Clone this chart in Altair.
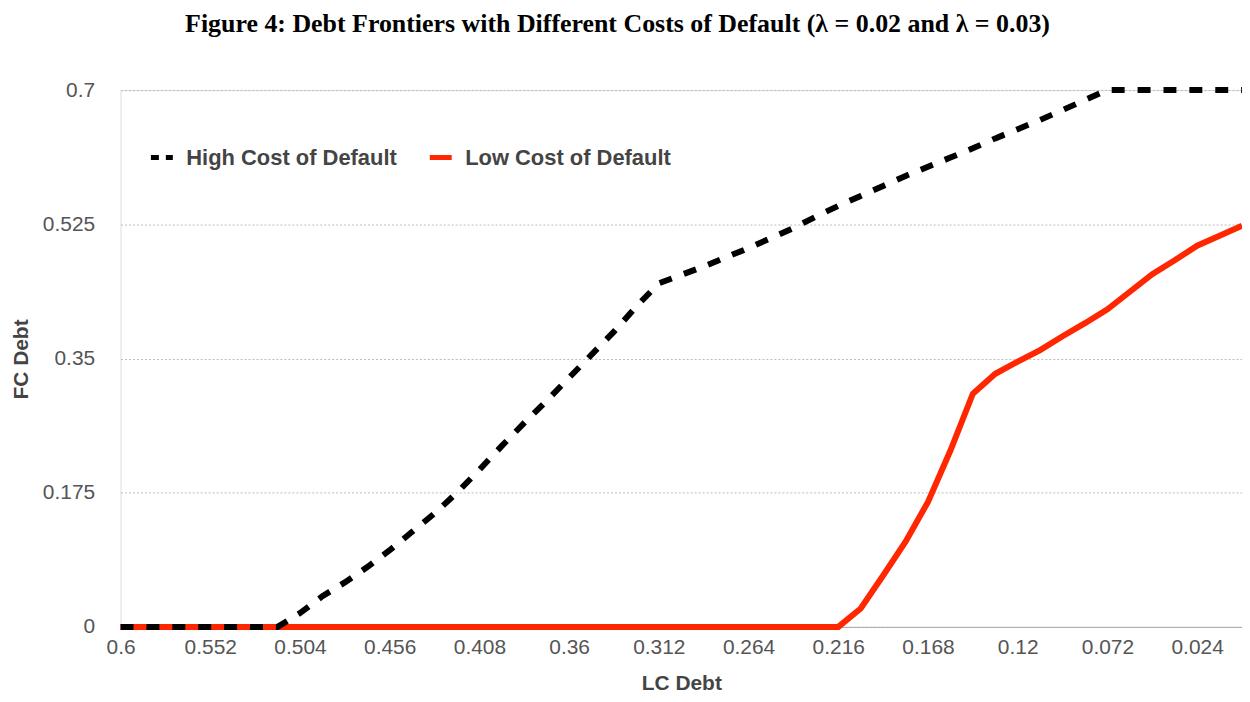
import altair as alt
import pandas as pd

# LC debt grid (x axis, reversed)
lc_debt = [0.6, 0.588, 0.576, 0.564, 0.552, 0.54, 0.528, 0.516, 0.504, 0.492,
           0.48, 0.468, 0.456, 0.444, 0.432, 0.42, 0.408, 0.396, 0.384, 0.372,
           0.36, 0.348, 0.336, 0.324, 0.312, 0.3, 0.288, 0.276, 0.264, 0.252,
           0.24, 0.228, 0.216, 0.204, 0.192, 0.18, 0.168, 0.156, 0.144, 0.132,
           0.12, 0.108, 0.096, 0.084, 0.072, 0.06, 0.048, 0.036, 0.024, 0.012, 0.0]

# FC debt frontier, high cost of default
high_cost = [0, 0, 0, 0, 0, 0, 0, 0, 0.018, 0.040,
             0.058, 0.078, 0.100, 0.124, 0.148, 0.175, 0.205, 0.236, 0.266, 0.295,
             0.325, 0.355, 0.385, 0.418, 0.448, 0.459, 0.470, 0.482, 0.494, 0.507,
             0.520, 0.535, 0.549, 0.562, 0.575, 0.588, 0.600, 0.612, 0.624, 0.637,
             0.649, 0.661, 0.674, 0.687, 0.700, 0.700, 0.700, 0.700, 0.700, 0.700, 0.700]

# FC debt frontier, low cost of default
low_cost = [0, 0, 0, 0, 0, 0, 0, 0, 0, 0,
            0, 0, 0, 0, 0, 0, 0, 0, 0, 0,
            0, 0, 0, 0, 0, 0, 0, 0, 0, 0,
            0, 0, 0, 0.024, 0.067, 0.111, 0.163, 0.230, 0.304, 0.330,
            0.346, 0.361, 0.379, 0.396, 0.414, 0.437, 0.460, 0.478, 0.497, 0.510, 0.523]

series_names = ["High Cost of Default", "Low Cost of Default"]
series_colors = ["#000000", "#FF2600"]

x_ticks = [0.6, 0.552, 0.504, 0.456, 0.408, 0.36, 0.312, 0.264, 0.216, 0.168, 0.12, 0.072, 0.024]
y_ticks = [0, 0.175, 0.35, 0.525, 0.7]

df = pd.DataFrame({
    "lc": lc_debt * 2,
    "fc": high_cost + low_cost,
    "series": [series_names[0]] * len(lc_debt) + [series_names[1]] * len(lc_debt),
})

FONT = "Liberation Sans"

x_enc = alt.X("lc:Q",
              scale=alt.Scale(domain=[0, 0.6], reverse=True, nice=False, zero=False),
              axis=alt.Axis(title="LC Debt", values=x_ticks, format=".3~f", grid=False,
                            ticks=False, domain=True, domainColor="#aaaaaa", domainWidth=1,
                            labelFont=FONT, labelFontSize=21, labelColor="#555555",
                            labelPadding=10, labelFlush=False, labelOverlap=False,
                            titleFont=FONT, titleFontSize=21, titleFontWeight="bold",
                            titleColor="#444444", titleY=57, titleBaseline="middle"))
y_enc = alt.Y("fc:Q",
              scale=alt.Scale(domain=[0, 0.7], nice=False),
              axis=alt.Axis(title="FC Debt", values=y_ticks, format=".3~f", grid=True,
                            gridDash=[2, 2], gridColor="#bbbbbb", gridWidth=1,
                            ticks=False, domain=False,
                            labelFont=FONT, labelFontSize=21, labelColor="#555555",
                            labelPadding=26, labelOverlap=False,
                            titleFont=FONT, titleFontSize=21, titleFontWeight="bold",
                            titleColor="#444444", titleX=-99, titleY=270,
                            titleBaseline="middle"))

base = alt.Chart(df)

low_line = base.transform_filter(alt.datum.series == series_names[1]).mark_line(
    strokeWidth=6, strokeCap="butt", strokeJoin="miter", color=series_colors[1]).encode(
    x=x_enc, y=y_enc)
high_line = base.transform_filter(alt.datum.series == series_names[0]).mark_line(
    strokeWidth=6, strokeDash=[13, 13], strokeCap="butt", strokeJoin="miter",
    color=series_colors[0]).encode(x=x_enc, y=y_enc)

legend_props = dict(title=None, orient="none", legendX=28, legendY=54,
                    direction="horizontal", symbolType="stroke",
                    symbolSize=484, symbolStrokeWidth=5,
                    labelFont=FONT, labelFontSize=22, labelFontWeight="bold",
                    labelColor="#444444", labelOffset=11, columnPadding=22, labelLimit=400)

# legend-only layer (no rows drawn)
legend_layer = base.transform_filter("datum.fc < -1").mark_line(strokeWidth=5).encode(
    x=x_enc, y=y_enc,
    color=alt.Color("series:N", scale=alt.Scale(domain=series_names, range=series_colors),
                    legend=alt.Legend(**legend_props)),
    strokeDash=alt.StrokeDash("series:N",
                              scale=alt.Scale(domain=series_names, range=[[8, 7], [1, 0]]),
                              legend=alt.Legend(**legend_props)),
)

chart = alt.layer(low_line, high_line, legend_layer).properties(
    width=1126, height=539,
    autosize=alt.AutoSizeParams(type="none"),
    padding={"left": 113, "top": 81, "right": 0, "bottom": 70},
    title=alt.Title("Figure 4: Debt Frontiers with Different Costs of Default (λ = 0.02 and λ = 0.03)",
                    font="Liberation Serif", fontSize=26, fontWeight="bold", color="#000000",
                    anchor="middle", frame="group", dx=-64, offset=41),
).configure_view(stroke=None).configure(background="white")

chart.save("out.html", embed_options={"renderer": "svg", "actions": False})
